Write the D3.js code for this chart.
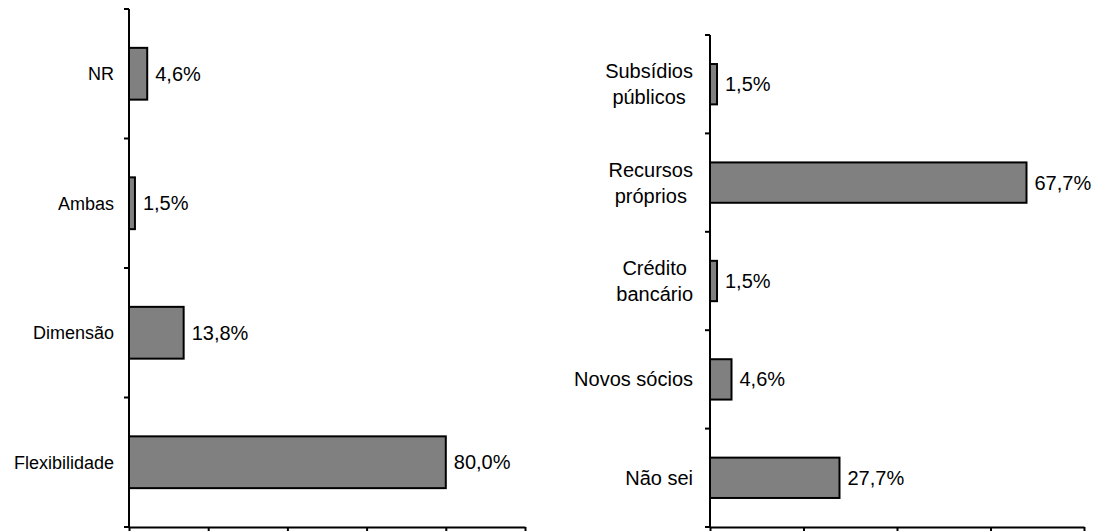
<!DOCTYPE html>
<html><head><meta charset="utf-8">
<script src="https://cdn.jsdelivr.net/npm/d3@7"></script>
<style>body{margin:0;background:#fff}svg{display:block}text{font-family:"Liberation Sans",Arial,sans-serif;fill:#000}</style>
</head><body>
<svg id="c" width="1099" height="531"></svg>
<script>
const leftCategories = ["NR", "Ambas", "Dimensão", "Flexibilidade"];
const leftValues = [4.6, 1.5, 13.8, 80.0];
const leftTicks = [0, 20, 40, 60, 80, 100];

const rightCategories = [["Subsídios", "públicos"], ["Recursos", "próprios"], ["Crédito", "bancário"], ["Novos sócios"], ["Não sei"]];
const rightValues = [1.5, 67.7, 1.5, 4.6, 27.7];
const rightTicks = [0, 20, 40, 60, 80];

const svg = d3.select("#c");
const fmt = v => v.toFixed(1).replace(".", ",") + "%";

function panel(cfg) {
  const g = svg.append("g");
  const keys = cfg.cats.map((c, i) => i);
  const x = d3.scaleLinear().domain([0, cfg.max]).range([cfg.x0, cfg.x1]);
  const p = cfg.pad;
  const y = d3.scaleBand().domain(keys).range([cfg.y0, cfg.y1]).paddingInner(p).paddingOuter(p / 2);
  const step = y.step();

  // bars
  g.selectAll("rect.bar").data(keys).join("rect")
    .attr("x", x(0)).attr("y", i => y(i))
    .attr("width", i => x(cfg.vals[i]) - x(0))
    .attr("height", y.bandwidth())
    .attr("fill", "#808080").attr("stroke", "#000").attr("stroke-width", 2);

  // value labels
  g.selectAll("text.val").data(keys).join("text")
    .attr("x", i => x(cfg.vals[i]) + 8)
    .attr("y", i => y(i) + y.bandwidth() / 2)
    .attr("dy", "0.35em")
    .attr("font-size", 20)
    .text(i => fmt(cfg.vals[i]));

  // category labels (multi-line labels centred on each other, block right-aligned)
  const right = x(0) - cfg.labelGap;
  const lh = 26;
  keys.forEach(i => {
    const lines = Array.isArray(cfg.cats[i]) ? cfg.cats[i] : [cfg.cats[i]];
    const t = g.append("text").attr("font-size", cfg.catSize)
      .attr("y", y(i) + y.bandwidth() / 2);
    const spans = lines.map((ln, k) => t.append("tspan")
      .attr("dy", k === 0 ? (0.35 * cfg.catSize - (lines.length - 1) * lh / 2) : lh)
      .text(ln));
    if (lines.length === 1) {
      t.attr("text-anchor", "end");
      spans[0].attr("x", right);
    } else {
      const w = d3.max(spans, s => s.node().getComputedTextLength());
      t.attr("text-anchor", "middle");
      spans.forEach(s => s.attr("x", right - w / 2));
    }
  });

  // vertical axis with ticks at category boundaries
  const bounds = d3.range(keys.length + 1).map(k => cfg.y0 + k * step);
  g.append("line").attr("x1", x(0)).attr("x2", x(0)).attr("y1", cfg.y0).attr("y2", cfg.y1)
    .attr("stroke", "#000").attr("stroke-width", 2);
  g.selectAll("line.bt").data(bounds).join("line")
    .attr("x1", x(0) - 5).attr("x2", x(0)).attr("y1", d => d).attr("y2", d => d)
    .attr("stroke", "#000").attr("stroke-width", 2);

  // horizontal axis
  const ax = g.append("g").attr("transform", `translate(0,${cfg.y1})`)
    .call(d3.axisBottom(x).tickValues(cfg.ticks).tickFormat("").tickSize(6).tickSizeOuter(0));
  ax.select(".domain").attr("stroke", "#000").attr("stroke-width", 2);
  ax.selectAll(".tick line").attr("stroke", "#000").attr("stroke-width", 2);
}

panel({cats: leftCategories, vals: leftValues, ticks: leftTicks, max: 100,
  x0: 129, x1: 525, y0: 9, y1: 527, pad: 0.6, catSize: 18, labelGap: 15});
panel({cats: rightCategories, vals: rightValues, ticks: rightTicks, max: 80,
  x0: 710, x1: 1084, y0: 35, y1: 527, pad: 0.59, catSize: 20, labelGap: 17});
</script>
</body></html>
